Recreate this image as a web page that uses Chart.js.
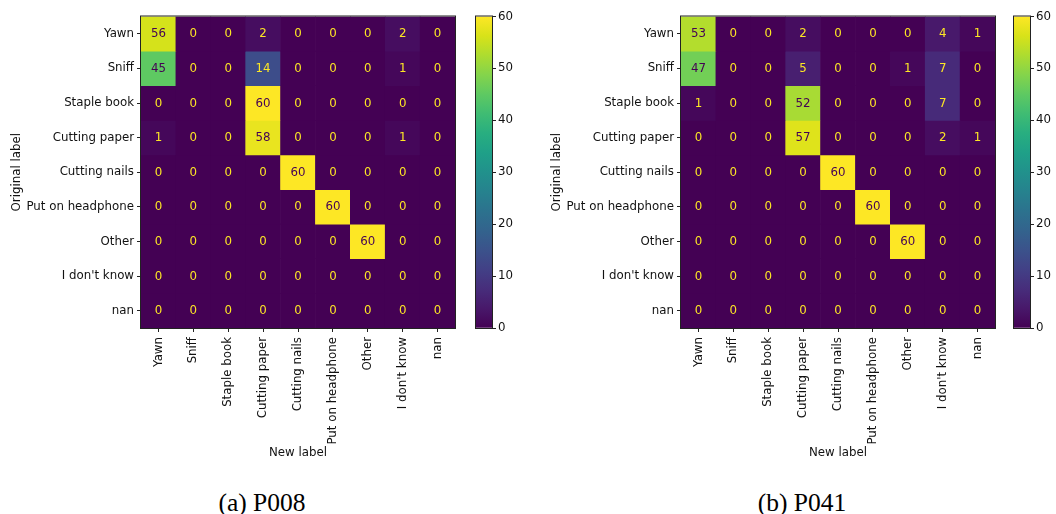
<!DOCTYPE html>
<html>
<head>
<meta charset="utf-8">
<script src="https://cdn.jsdelivr.net/npm/chart.js@4/dist/chart.umd.min.js"></script>
<style>
  body { margin: 0; background: #fff; width: 1056px; height: 514px; position: relative; overflow: hidden; }
  canvas { position: absolute; }
  .cap { position: absolute; font-family: "Liberation Serif", "Times New Roman", serif; font-size: 25.5px;
         line-height: 1; color: #000; white-space: nowrap; transform: translateX(-50%); }
</style>
</head>
<body>
<canvas id="matA" width="460" height="462" style="left:0;top:0"></canvas>
<canvas id="barA" width="52" height="340" style="left:466px;top:0"></canvas>
<canvas id="matB" width="460" height="462" style="left:540px;top:0"></canvas>
<canvas id="barB" width="52" height="340" style="left:1004px;top:0"></canvas>
<div class="cap" style="left:262px;top:490px">(a) P008</div>
<div class="cap" style="left:802px;top:490px">(b) P041</div>
<script>
// Class names shared by both axes (rows = original label, columns = new label)
const classLabels = ["Yawn", "Sniff", "Staple book", "Cutting paper", "Cutting nails",
                     "Put on headphone", "Other", "I don't know", "nan"];

// Confusion counts, one row per original label
const countsP008 = [
  [56, 0, 0, 2, 0, 0, 0, 2, 0],
  [45, 0, 0, 14, 0, 0, 0, 1, 0],
  [0, 0, 0, 60, 0, 0, 0, 0, 0],
  [1, 0, 0, 58, 0, 0, 0, 1, 0],
  [0, 0, 0, 0, 60, 0, 0, 0, 0],
  [0, 0, 0, 0, 0, 60, 0, 0, 0],
  [0, 0, 0, 0, 0, 0, 60, 0, 0],
  [0, 0, 0, 0, 0, 0, 0, 0, 0],
  [0, 0, 0, 0, 0, 0, 0, 0, 0]
];
const countsP041 = [
  [53, 0, 0, 2, 0, 0, 0, 4, 1],
  [47, 0, 0, 5, 0, 0, 1, 7, 0],
  [1, 0, 0, 52, 0, 0, 0, 7, 0],
  [0, 0, 0, 57, 0, 0, 0, 2, 1],
  [0, 0, 0, 0, 60, 0, 0, 0, 0],
  [0, 0, 0, 0, 0, 60, 0, 0, 0],
  [0, 0, 0, 0, 0, 0, 60, 0, 0],
  [0, 0, 0, 0, 0, 0, 0, 0, 0],
  [0, 0, 0, 0, 0, 0, 0, 0, 0]
];

// Colour scale range and colorbar ticks
const colorMin = 0;
const colorMax = 60;
const colorbarTicks = [0, 10, 20, 30, 40, 50, 60];

// Viridis colormap stops
const VIRIDIS = ["#440154", "#48186a", "#472d7b", "#424086", "#3b528b", "#33638d", "#2c728e",
  "#26828e", "#21918c", "#1fa088", "#28ae80", "#3fbc73", "#5ec962", "#84d44b", "#addc30",
  "#d8e219", "#fde725"];

function hexToRgb(h) {
  return [parseInt(h.slice(1, 3), 16), parseInt(h.slice(3, 5), 16), parseInt(h.slice(5, 7), 16)];
}
function viridis(t) {
  t = Math.max(0, Math.min(1, t));
  const pos = t * (VIRIDIS.length - 1);
  const i = Math.min(Math.floor(pos), VIRIDIS.length - 2);
  const f = pos - i;
  const a = hexToRgb(VIRIDIS[i]), b = hexToRgb(VIRIDIS[i + 1]);
  const c = a.map((v, k) => Math.round(v + (b[k] - v) * f));
  return `rgb(${c[0]},${c[1]},${c[2]})`;
}

const FONT_SIZE = 11.8;
const TEXT_COLOR = "#111";
const TICK_COLOR = "#222";
Chart.defaults.font.family = '"DejaVu Sans", sans-serif';
Chart.defaults.font.size = FONT_SIZE;
Chart.defaults.color = TEXT_COLOR;

// Thin frame round the plotting area
const framePlugin = {
  id: "frame",
  afterDatasetsDraw(chart) {
    const a = chart.chartArea, ctx = chart.ctx;
    ctx.save();
    ctx.strokeStyle = TICK_COLOR;
    ctx.lineWidth = 1;
    ctx.strokeRect(a.left - 0.5, a.top - 0.5, a.right - a.left + 1, a.bottom - a.top + 1);
    ctx.restore();
  }
};

// Count written in the middle of each cell
const cellTextPlugin = {
  id: "cellText",
  afterDatasetsDraw(chart) {
    const ctx = chart.ctx;
    ctx.save();
    ctx.font = `${FONT_SIZE}px "DejaVu Sans", sans-serif`;
    ctx.textAlign = "center";
    ctx.textBaseline = "middle";
    const thresh = (colorMax + colorMin) / 2;
    chart.data.datasets.forEach((ds, di) => {
      chart.getDatasetMeta(di).data.forEach((bar, ci) => {
        const v = ds.counts[ci];
        const p = bar.getProps(["x", "y", "base"], true);
        ctx.fillStyle = v >= thresh ? VIRIDIS[0] : VIRIDIS[VIRIDIS.length - 1];
        ctx.fillText(String(v), p.x, (p.y + p.base) / 2 + 0.5);
      });
    });
    ctx.restore();
  }
};

function matrixChart(id, counts) {
  const datasets = counts.map((row, r) => ({
    label: classLabels[r],
    data: row.map(() => [r, r + 1]),
    counts: row,
    backgroundColor: row.map(v => viridis((v - colorMin) / (colorMax - colorMin))),
    borderWidth: 0,
    borderSkipped: false,
    barPercentage: 1,
    categoryPercentage: 1,
    grouped: false
  }));
  return new Chart(document.getElementById(id), {
    type: "bar",
    data: { labels: classLabels, datasets },
    plugins: [cellTextPlugin, framePlugin],
    options: {
      responsive: false,
      animation: false,
      layout: { padding: { top: 16.5, right: 5, bottom: 0, left: 0 } },
      plugins: { legend: { display: false }, tooltip: { enabled: false } },
      scales: {
        x: {
          type: "category",
          offset: true,
          grid: { offset: false, drawOnChartArea: false, tickLength: 4, color: TICK_COLOR, lineWidth: 1 },
          border: { display: false },
          ticks: { autoSkip: false, minRotation: 90, maxRotation: 90, padding: 5, color: TEXT_COLOR },
          title: { display: true, text: "New label", color: TEXT_COLOR, padding: { top: 0, bottom: 1.5 } },
          afterFit(s) { s.height = 134; }
        },
        y: {
          type: "linear",
          min: 0,
          max: classLabels.length,
          reverse: true,
          afterBuildTicks(s) { s.ticks = classLabels.map((_, i) => ({ value: i + 0.5 })); },
          ticks: { autoSkip: false, padding: 3, color: TEXT_COLOR,
                   callback: (v, i) => classLabels[i] },
          grid: { drawOnChartArea: false, tickLength: 4, color: TICK_COLOR, lineWidth: 1 },
          border: { display: false },
          title: { display: true, text: "Original label", color: TEXT_COLOR, padding: { top: 9.5, bottom: 0 } },
          afterFit(s) { s.width = 141; }
        }
      }
    }
  });
}

function colorbarChart(id) {
  return new Chart(document.getElementById(id), {
    type: "bar",
    data: {
      labels: [""],
      datasets: [{
        data: [[colorMin, colorMax]],
        borderWidth: 0,
        borderSkipped: false,
        barPercentage: 1,
        categoryPercentage: 1,
        backgroundColor(ctx) {
          const a = ctx.chart.chartArea;
          if (!a) return VIRIDIS[0];
          const g = ctx.chart.ctx.createLinearGradient(0, a.bottom, 0, a.top);
          VIRIDIS.forEach((c, i) => g.addColorStop(i / (VIRIDIS.length - 1), c));
          return g;
        }
      }]
    },
    plugins: [framePlugin],
    options: {
      responsive: false,
      animation: false,
      layout: { padding: { top: 16.5, right: 0, bottom: 12, left: 10 } },
      plugins: { legend: { display: false }, tooltip: { enabled: false } },
      scales: {
        x: { display: false },
        y: {
          position: "right",
          min: colorMin,
          max: colorMax,
          afterBuildTicks(s) { s.ticks = colorbarTicks.map(v => ({ value: v })); },
          ticks: { autoSkip: false, padding: 2, color: TEXT_COLOR },
          grid: { drawOnChartArea: false, tickLength: 4, color: TICK_COLOR, lineWidth: 1 },
          border: { display: false },
          afterFit(s) { s.width = 26; }
        }
      }
    }
  });
}

matrixChart("matA", countsP008);
colorbarChart("barA");
matrixChart("matB", countsP041);
colorbarChart("barB");
</script>
</body>
</html>
